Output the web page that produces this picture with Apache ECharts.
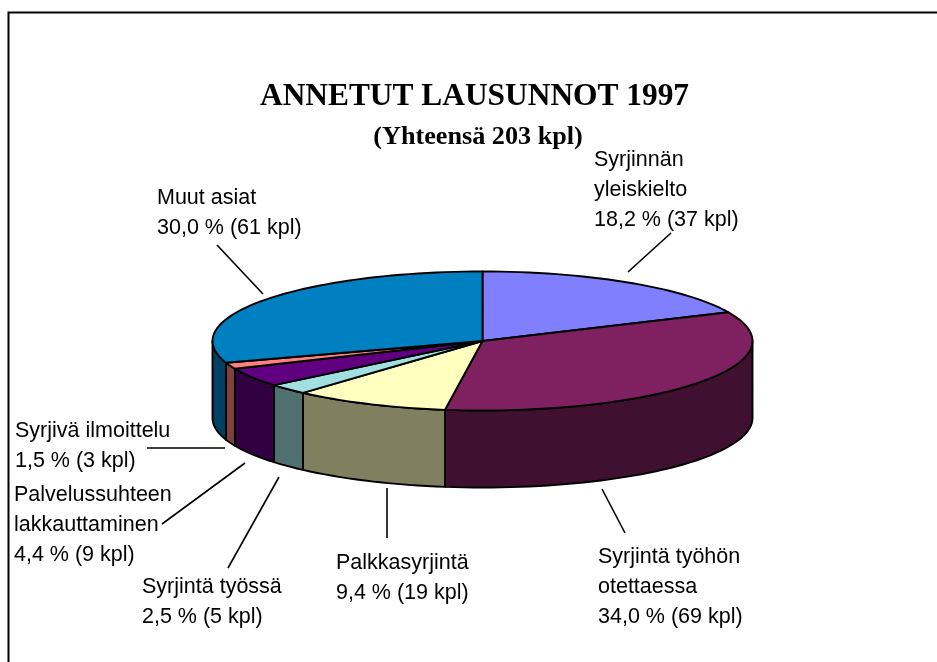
<!DOCTYPE html>
<html><head><meta charset="utf-8">
<style>html,body{margin:0;padding:0;background:#fff}#c{width:937px;height:662px}</style>
<script src="https://cdn.jsdelivr.net/npm/echarts@6/dist/echarts.min.js"></script>
</head><body><div id="c"></div>
<script>
const titleText = 'ANNETUT LAUSUNNOT 1997';
const subtitleText = '(Yhteensä 203 kpl)';
const categories = ['Syrjinnän\nyleiskielto','Syrjintä työhön\notettaessa','Palkkasyrjintä','Syrjintä työssä','Palvelussuhteen\nlakkauttaminen','Syrjivä ilmoittelu','Muut asiat'];
const counts = [37,69,19,5,9,3,61];
const percents = ['18,2','34,0','9,4','2,5','4,4','1,5','30,0'];
const topColors = ['#8080FF','#7F2060','#FFFFC0','#A0E0E0','#600080','#FF8080','#0080C0'];
const sideColors = ['#404080','#401030','#808060','#507070','#300040','#804040','#004060'];
// layout: label left/first-line centre, leader line ends
const labelPos = [[594,160],[598,557],[336,563],[142,587],[14,495],[15,431],[157,198]];
const leaders = [[[628,272],[671,233]],[[602,489],[625,533]],[[387,488],[387,538]],[[279,477],[228,568]],[[245,463],[162,524]],[[225,448],[147,448]],[[263,294],[217,245]]];
const cx=482.5, cy=341, rx=270, ry=69.5, depth=77, LH=30;
const total = counts.reduce((a,b)=>a+b,0);
const starts=[]; counts.reduce((s,v,i)=>(starts[i]=s,s+v),0);
const pt=(deg,dy)=>{const t=deg*Math.PI/180;return [cx+rx*Math.sin(t),cy-ry*Math.cos(t)+(dy||0)];};
const arc=(a,b,dy)=>{const n=Math.max(1,Math.ceil(Math.abs(b-a)/2)),o=[];for(let i=0;i<=n;i++)o.push(pt(a+(b-a)*i/n,dy));return o;};
const LINE={stroke:'#000',lineWidth:1.9,lineJoin:'round'};
function renderItem(params,api){
  const i=api.value(1), a0=api.value(2)/total*360, a1=(api.value(2)+api.value(0))/total*360;
  const children=[];
  const s=Math.max(a0,90), e=Math.min(a1,270);
  if(e>s){
    children.push({type:'polygon',shape:{points:arc(s,e,0).concat(arc(e,s,depth))},style:Object.assign({fill:sideColors[i]},LINE)});
  }
  children.push({type:'polygon',shape:{points:[[cx,cy]].concat(arc(a0,a1,0))},style:Object.assign({fill:topColors[i]},LINE)});
  const l=leaders[i];
  children.push({type:'line',shape:{x1:l[0][0],y1:l[0][1],x2:l[1][0],y2:l[1][1]},style:{stroke:'#000',lineWidth:1.6}});
  const lines=(categories[i]+'\n'+percents[i]+' % ('+counts[i]+' kpl)').split('\n');
  lines.forEach((t,k)=>children.push({type:'text',style:{text:t,x:labelPos[i][0],y:labelPos[i][1]+k*LH,fill:'#000',font:'21.5px "Liberation Sans"',textAlign:'left',textVerticalAlign:'middle'}}));
  return {type:'group',children};
}
const chart=echarts.init(document.getElementById('c'),null,{renderer:'canvas'});
chart.setOption({
  animation:false,
  backgroundColor:'#fff',
  title:[
    {text:titleText,left:469.5,top:76,textAlign:'center',textStyle:{fontFamily:'Liberation Serif',fontWeight:'bold',fontSize:31.4,color:'#000'}},
    {text:subtitleText,left:473,top:119,textAlign:'center',textStyle:{fontFamily:'Liberation Serif',fontWeight:'bold',fontSize:26.2,color:'#000'}}
  ],
  graphic:[{type:'polyline',shape:{points:[[8.5,662],[8.5,12.5],[937,12.5]]},style:{stroke:'#000',lineWidth:2,fill:null}}],
  series:[{type:'custom',coordinateSystem:'none',renderItem,silent:true,
    data:counts.map((v,i)=>[v,i,starts[i]])}]
});
</script></body></html>
